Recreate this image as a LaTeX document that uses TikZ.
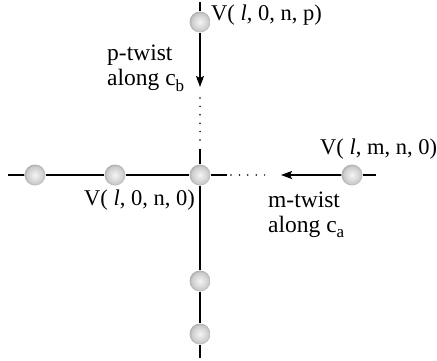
\documentclass[tikz,border=0pt]{standalone}
\usepackage{fontspec}
\setmainfont{Liberation Serif}
\usetikzlibrary{arrows.meta}
\pgfdeclareradialshading{sitesphere}{\pgfpoint{0bp}{0bp}}{%
  color(0bp)=(gray!8); color(20bp)=(gray!40); color(25bp)=(gray!62); color(50bp)=(gray!62)}
\newcommand{\lowsub}[1]{\raisebox{-0.22em}{\fontsize{17}{17}\selectfont #1}}

\begin{document}
\begin{tikzpicture}[
    x=1pt, y=-1pt,
    >={Stealth[length=11pt, width=8pt, inset=2pt]},
    site/.style={circle, minimum size=21pt, inner sep=0pt, shading=sitesphere},
    axis/.style={line width=1.1pt},
    gap/.style={line width=1.7pt, line cap=round, dash pattern=on 0pt off 8.4pt},
    lbl/.style={anchor=base west, inner sep=0pt, font=\fontsize{22.5}{26}\selectfont},
    twistlbl/.style={anchor=base west, inner sep=0pt, align=left, font=\fontsize{23.5}{25}\selectfont},
]
    \useasboundingbox (0,0) rectangle (437,361);
    \node[site] (top) at (200,22) {};
    \node[site] (c) at (200,175) {};
    \node[site] (w1) at (35,175) {};
    \node[site] (w2) at (115,175) {};
    \node[site] (e) at (352,175) {};
    \node[site] (s1) at (200,281) {};
    \node[site] (s2) at (200,334) {};
    \coordinate (ntop) at (200,2);
    \coordinate (nbot) at (200,358);
    \coordinate (wend) at (8,175);
    \coordinate (eend) at (376,175);
    \coordinate (ptip) at (200,87);
    \coordinate (pgap1) at (200,98);
    \coordinate (pgap2) at (200,141);
    \coordinate (pdot) at (200,149);
    \coordinate (mdot) at (227,175);
    \coordinate (mgap1) at (231,175);
    \coordinate (mgap2) at (268,175);
    \coordinate (mtip) at (281,175);
    \draw[axis] (ntop) -- (top);
    \draw[axis, ->] (top) -- (ptip);
    \draw[gap] (pgap1) -- (pgap2);
    \draw[axis] (pdot) -- (c) -- (s1) -- (s2) -- (nbot);
    \draw[axis] (wend) -- (w1) -- (w2) -- (c) -- (mdot);
    \draw[gap] (mgap1) -- (mgap2);
    \draw[axis, ->] (e) -- (mtip);
    \draw[axis] (e) -- (eend);
    \node[lbl] (vp) at (211,21) {V( \textit{l}, 0, n, p)};
    \node[twistlbl] (ptw) at (107,86) {p-twist\\along c\lowsub{b}};
    \node[lbl] (vm) at (320,154) {V( \textit{l}, m, n, 0)};
    \node[lbl] (v0) at (84,205) {V( \textit{l}, 0, n, 0)};
    \node[twistlbl] (mtw) at (268,232) {m-twist\\along c\lowsub{a}};
\end{tikzpicture}
\end{document}
